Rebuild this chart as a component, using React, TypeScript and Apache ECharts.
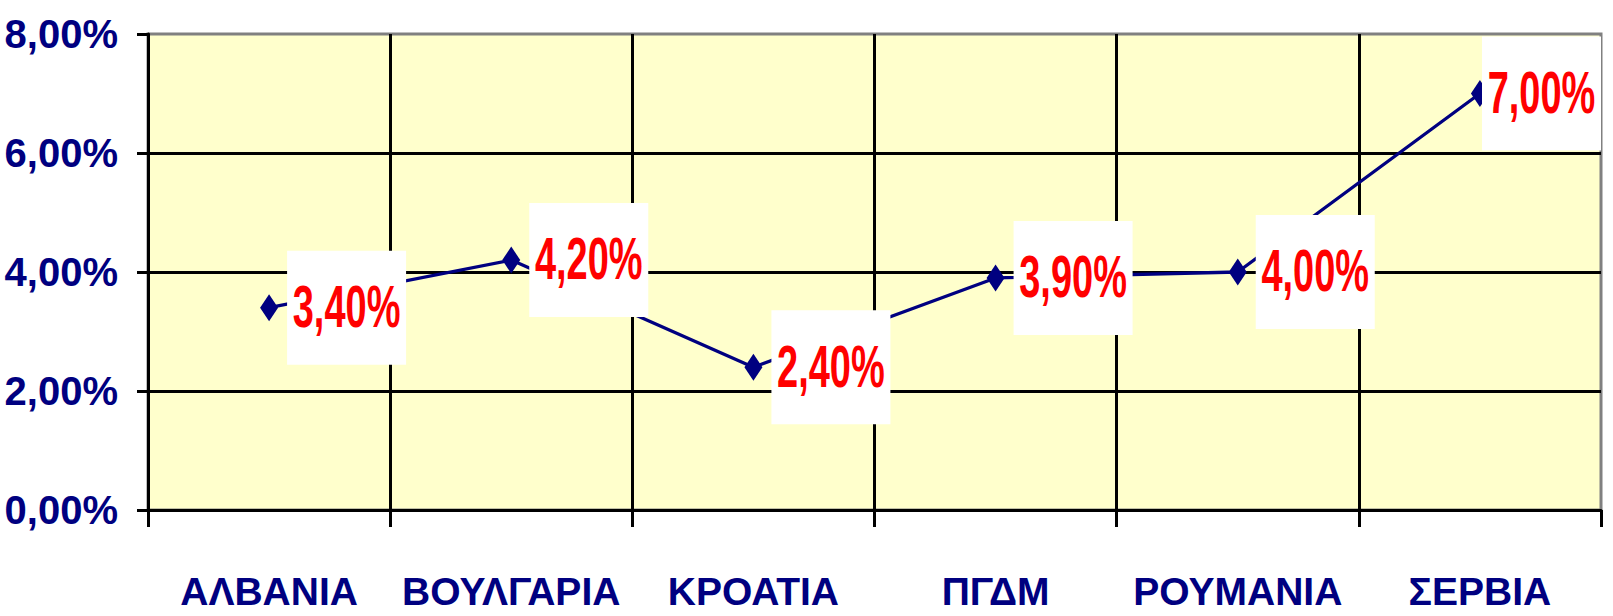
import React, { useEffect, useRef } from "react";
import * as echarts from "echarts";

const categories = ["ΑΛΒΑΝΙΑ", "ΒΟΥΛΓΑΡΙΑ", "ΚΡΟΑΤΙΑ", "ΠΓΔΜ", "ΡΟΥΜΑΝΙΑ", "ΣΕΡΒΙΑ"];
const rates = [3.4, 4.2, 2.4, 3.9, 4.0, 7.0];
const yTicks = { min: 0, max: 8, interval: 2 };

const FONT = "'Liberation Sans', Arial, sans-serif";
const fmt = (v: number) => v.toFixed(2).replace(".", ",") + "%";

export default function App() {
  const ref = useRef<HTMLDivElement>(null);
  useEffect(() => {
    if (!ref.current) return;
    const chart = echarts.init(ref.current, undefined, { renderer: "svg" });
    const BOX_W = 119;
    const BOX_H = 114;
    chart.setOption({
      animation: false,
      backgroundColor: "#ffffff",
      grid: {
        left: 148,
        top: 34,
        right: 12,
        bottom: 106,
        outerBoundsMode: "none",
        containLabel: false,
        show: true,
        backgroundColor: "#FFFFCC",
        borderColor: "#808080",
        borderWidth: 3,
      },
      xAxis: {
        type: "category",
        data: categories,
        boundaryGap: true,
        axisLine: { show: true, lineStyle: { color: "#000", width: 3 } },
        axisTick: { show: true, length: 17, lineStyle: { color: "#000", width: 3 } },
        splitLine: { show: true, showMaxLine: false, showMinLine: false, lineStyle: { color: "#000", width: 3 } },
        axisLabel: {
          interval: 0,
          hideOverlap: false,
          margin: 62,
          color: "#000080",
          fontFamily: FONT,
          fontWeight: "bold",
          fontSize: 39,
        },
      },
      yAxis: {
        type: "value",
        min: yTicks.min,
        max: yTicks.max,
        interval: yTicks.interval,
        axisLine: { show: true, lineStyle: { color: "#000", width: 3 } },
        axisTick: { show: true, length: 11, lineStyle: { color: "#000", width: 3 } },
        splitLine: { show: true, showMaxLine: false, showMinLine: false, lineStyle: { color: "#000", width: 3 } },
        axisLabel: {
          margin: 30,
          color: "#000080",
          fontFamily: FONT,
          fontWeight: "bold",
          fontSize: 40,
          formatter: (v: number) => fmt(v),
        },
      },
      series: [
        {
          type: "line",
          data: rates,
          z: 3,
          lineStyle: { color: "#000080", width: 3.3 },
          itemStyle: { color: "#000080" },
          symbol: "diamond",
          symbolSize: [18, 27],
          showAllSymbol: true,
        },
        {
          type: "custom",
          z: 5,
          data: rates.map((v, i) => [i, v]),
          renderItem: (params: any, api: any) => {
            const pt = api.coord([api.value(0), api.value(1)]);
            const cs = params.coordSys;
            let left = pt[0] + 18;
            const maxLeft = cs.x + cs.width - BOX_W;
            if (left > maxLeft) left = maxLeft;
            let top = pt[1] - BOX_H / 2;
            if (top < cs.y + 2) top = cs.y + 2;
            return {
              type: "group",
              children: [
                {
                  type: "rect",
                  shape: { x: left, y: top, width: BOX_W, height: BOX_H },
                  style: { fill: "#ffffff" },
                },
                {
                  type: "text",
                  x: left + BOX_W / 2,
                  y: top + BOX_H / 2 - 1,
                  scaleY: 1.58,
                  style: {
                    text: fmt(api.value(1)),
                    fill: "#ff0000",
                    fontFamily: FONT,
                    fontWeight: "bold",
                    fontSize: 38,
                    align: "center",
                    verticalAlign: "middle",
                  },
                },
              ],
            };
          },
        },
      ],
    });
    return () => chart.dispose();
  }, []);
  return (
    <div
      ref={ref}
      style={{ position: "fixed", left: 0, top: 0, width: 1613, height: 616, background: "#fff" }}
    />
  );
}
